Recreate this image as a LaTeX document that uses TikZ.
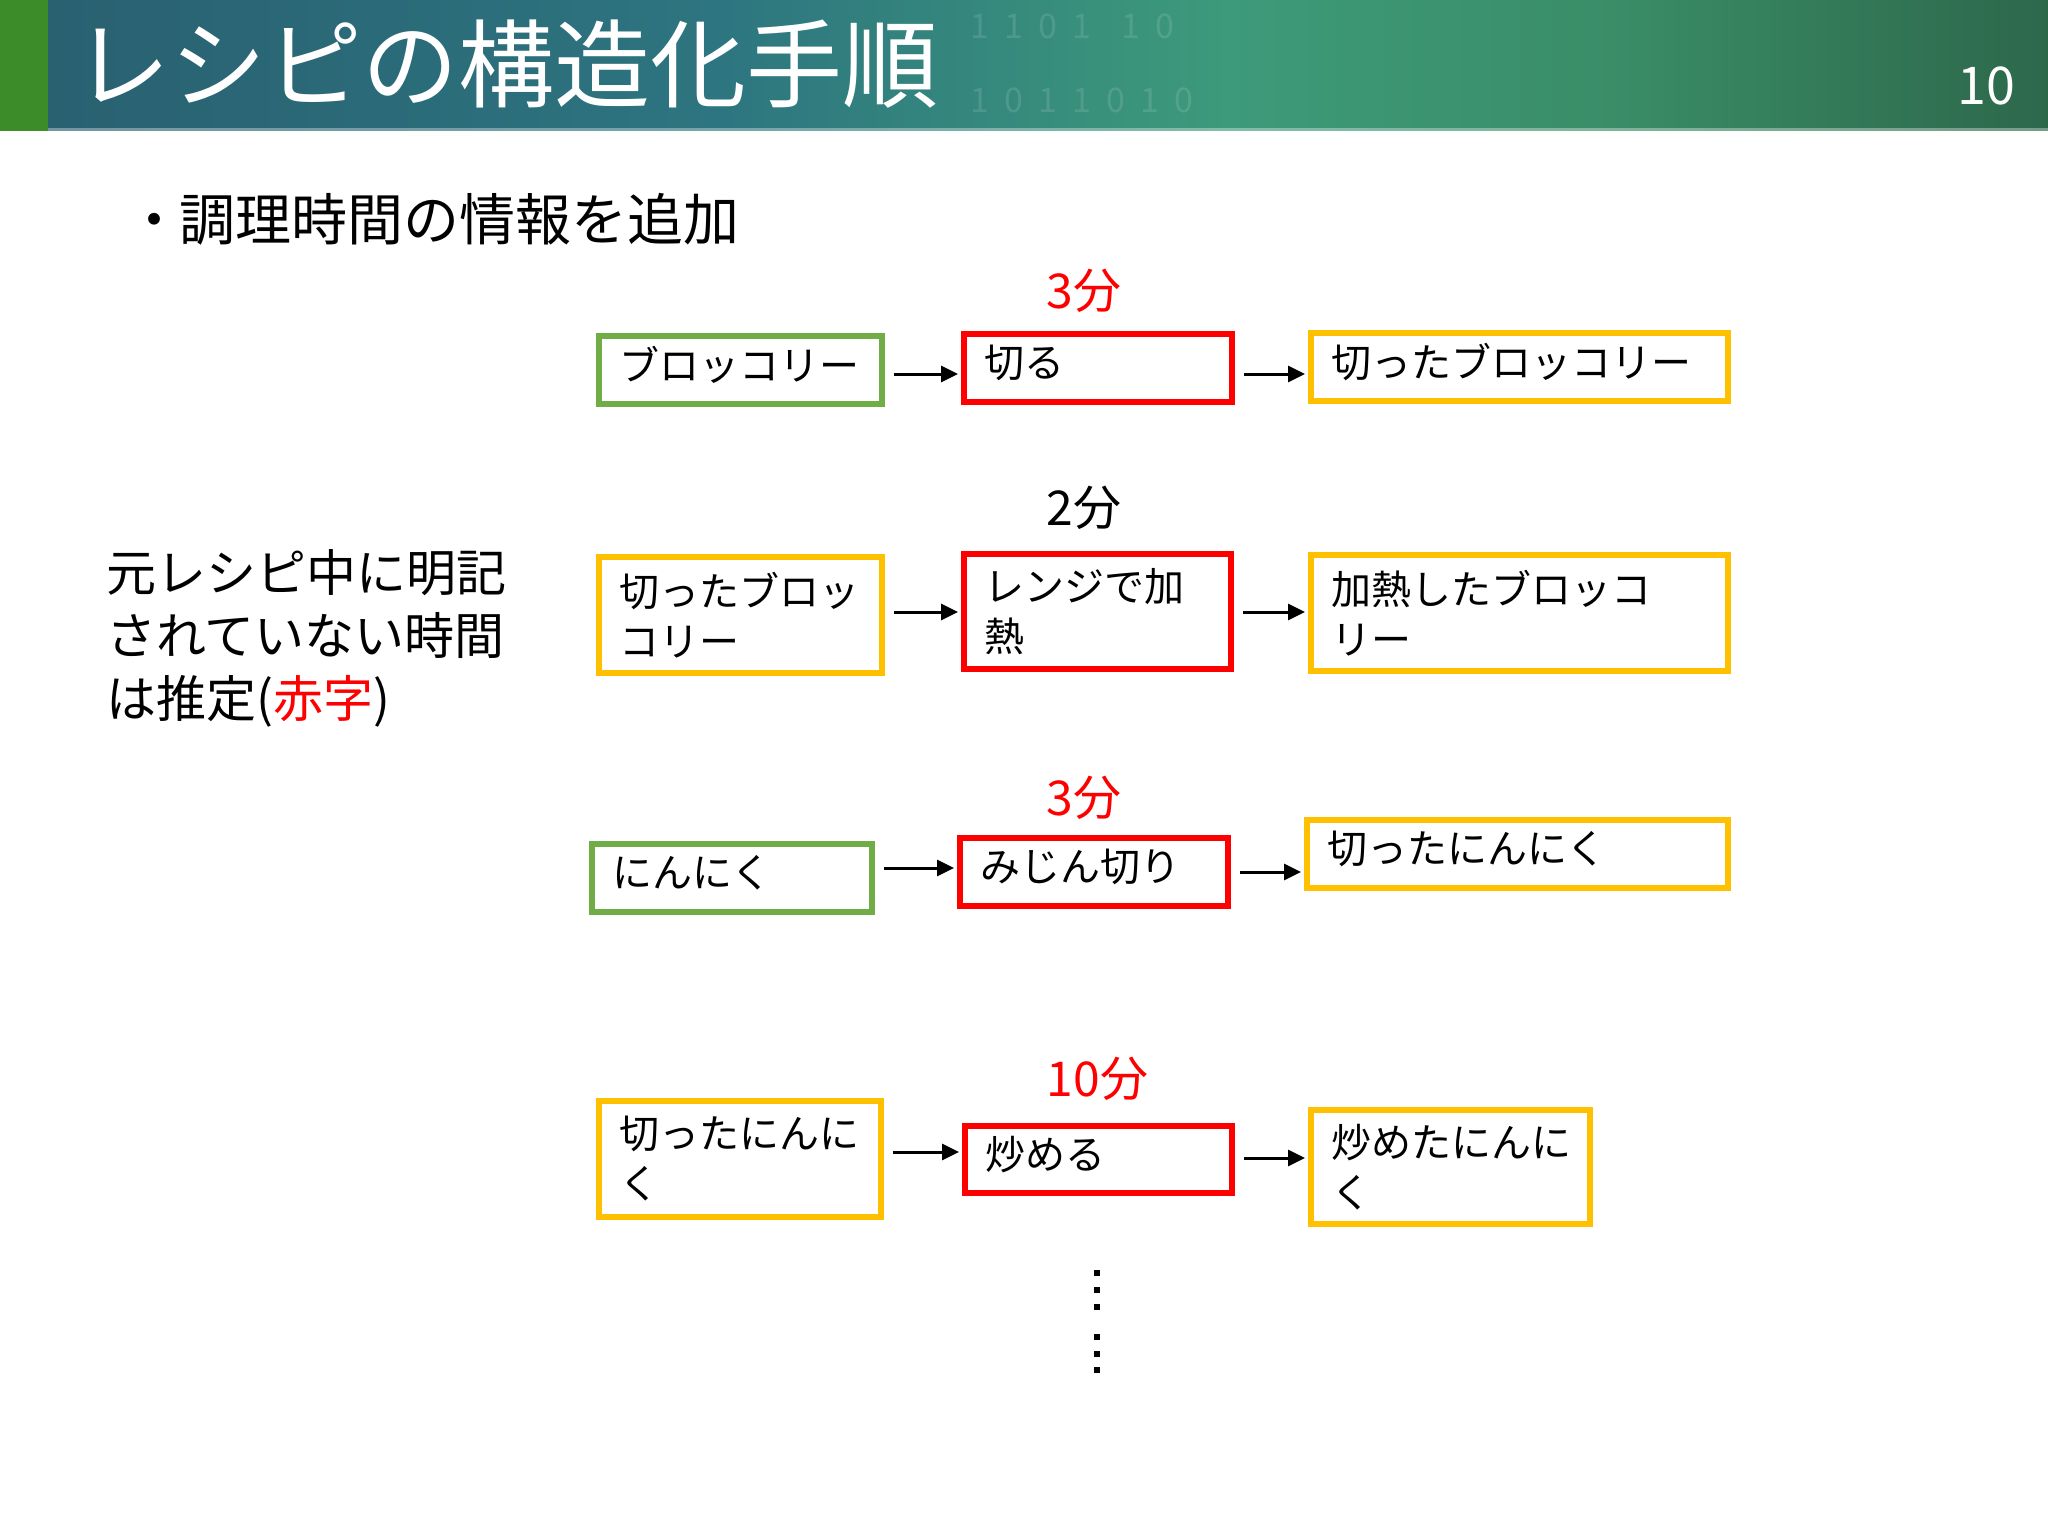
\documentclass[tikz,border=0pt]{standalone}
\usepackage{fontspec}
\setmainfont{Noto Sans CJK JP}
\usetikzlibrary{arrows.meta}
\definecolor{boxgreen}{HTML}{70AD47}
\definecolor{boxred}{HTML}{FF0000}
\definecolor{boxyellow}{HTML}{FFC000}
\definecolor{hdra}{HTML}{295F70}
\definecolor{hdrb}{HTML}{2D7580}
\definecolor{hdrc}{HTML}{3D9A7A}
\definecolor{hdrd}{HTML}{3A8E68}
\definecolor{hdre}{HTML}{2D684B}
\definecolor{stripgreen}{HTML}{3C8C2A}
\pgfdeclarehorizontalshading{hdrshade}{100bp}{color(0bp)=(hdra); color(25bp)=(hdra); color(42.5bp)=(hdrb); color(55bp)=(hdrc); color(64bp)=(hdrd); color(75bp)=(hdre); color(100bp)=(hdre)}
\tikzset{
  box/.style={draw, line width=6pt, inner xsep=20pt, inner ysep=0pt, align=left,
              font=\fontsize{40}{50}\selectfont, anchor=center},
  onel/.style={text depth=13pt},
  gbox/.style={box, draw=boxgreen},
  rbox/.style={box, draw=boxred},
  ybox/.style={box, draw=boxyellow},
  arr/.style={-{Triangle[length=17pt,width=16pt]}, line width=3pt,
              shorten <=9pt, shorten >=3pt},
  tlabel/.style={font=\fontsize{48}{56}\selectfont, inner sep=0pt},
  dotsq/.style={fill=black, minimum size=6pt, inner sep=0pt, draw=none},
  bindig/.style={text=white, opacity=0.12, font=\fontsize{34}{40}\selectfont, inner sep=0pt}
}
\begin{document}
\begin{tikzpicture}[x=1pt,y=-1pt]
\useasboundingbox (0,0) rectangle (2048,1536);
\fill[white] (0,0) rectangle (2048,1536);
% header
\shade[shading=hdrshade] (0,0) rectangle (2048,131);
\fill[stripgreen] (0,0) rectangle (48,131);
\fill[white, opacity=0.35] (48,128) rectangle (2048,131);
\node[bindig, anchor=west] (bin1) at (970,26) {1\ \ 1\ \ 0\ \ 1\ \ \ \ 1\ \ 0};
\node[bindig, anchor=west] (bin2) at (970,100) {1\ \ 0\ \ 1\ \ 1\ \ 0\ \ 1\ \ 0};
\node[text=white, font=\fontsize{96}{110}\selectfont, anchor=west, inner sep=0pt] (title) at (74,64) {レシピの構造化手順};
\node[text=white, font=\fontsize{52}{60}\selectfont, inner sep=0pt] (pagenum) at (1986,86) {10};
% subtitle
\node[font=\fontsize{56}{64}\selectfont, anchor=west, inner sep=0pt] (sub) at (179,219) {調理時間の情報を追加};
\node[font=\fontsize{56}{64}\selectfont, anchor=base east, inner sep=0pt] (bullet) at ([xshift=4pt]sub.base west) {・};
% left note
\node[font=\fontsize{50}{63}\selectfont, anchor=west, align=left, inner sep=0pt] (note) at (106,638)
  {元レシピ中に明記\\されていない時間\\は推定(\textcolor{boxred}{赤字})};
% row 1
\node[tlabel, text=boxred] (t1) at (1084,291) {3分};
\node[gbox, onel, text width=243pt, minimum height=68pt] (b1) at (740.5,370) {ブロッコリー};
\node[rbox, onel, text width=228pt, minimum height=68pt] (b2) at (1098,368) {切る};
\node[ybox, onel, text width=377pt, minimum height=68pt] (b3) at (1519.5,367) {切ったブロッコリー};
\draw[arr] (b1.east |- 0,374) -- (b2.west |- 0,374);
\draw[arr] (b2.east |- 0,374) -- (b3.west |- 0,374);
% row 2
\node[tlabel, text=black] (t2) at (1084,508) {2分};
\node[ybox, text width=243pt, minimum height=116pt] (c1) at (740.5,615) {切ったブロッ\\コリー};
\node[rbox, text width=227pt, minimum height=115pt] (c2) at (1097.5,611.5) {レンジで加\\熱};
\node[ybox, text width=377pt, minimum height=116pt] (c3) at (1519.5,613) {加熱したブロッコ\\リー};
\draw[arr] (c1.east |- 0,612) -- (c2.west |- 0,612);
\draw[arr] (c2.east |- 0,612) -- (c3.west |- 0,612);
% row 3
\node[tlabel, text=boxred] (t3) at (1084,798) {3分};
\node[gbox, onel, text width=240pt, minimum height=68pt] (d1) at (732,878) {にんにく};
\node[rbox, onel, text width=228pt, minimum height=68pt] (d2) at (1094,872) {みじん切り};
\node[ybox, onel, text width=381pt, minimum height=68pt] (d3) at (1517.5,854) {切ったにんにく};
\draw[arr] (d1.east |- 0,868) -- (d2.west |- 0,868);
\draw[arr] (d2.east |- 0,872) -- (d3.west |- 0,872);
% row 4
\node[tlabel, text=boxred] (t4) at (1097.5,1079) {10分};
\node[ybox, text width=242pt, minimum height=116pt] (e1) at (740,1159) {切ったにんに\\く};
\node[rbox, onel, text width=227pt, minimum height=67pt] (e2) at (1098.5,1159.5) {炒める};
\node[ybox, text width=239pt, minimum height=114pt] (e3) at (1450.5,1167) {炒めたにんに\\く};
\draw[arr] (e1.east |- 0,1152) -- (e2.west |- 0,1152);
\draw[arr] (e2.east |- 0,1158) -- (e3.west |- 0,1158);
% continuation dots
\foreach \i/\yy in {1/1273,2/1290,3/1307,4/1337,5/1354,6/1370}
  \node[dotsq] (dot\i) at (1097,\yy) {};
\end{tikzpicture}
\end{document}
